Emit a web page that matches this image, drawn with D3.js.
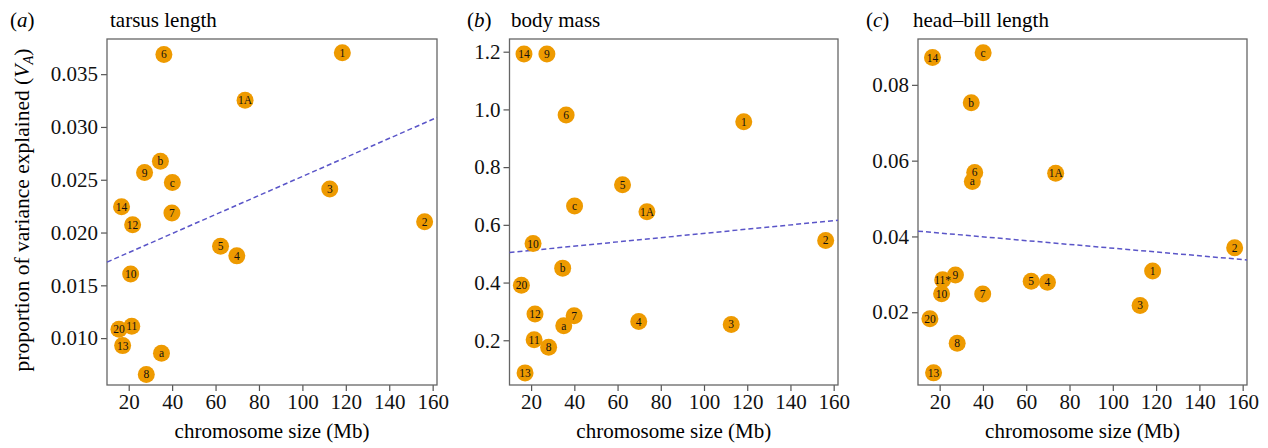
<html>
<head>
<script src="https://d3js.org/d3.v7.min.js"></script>
</head>
<body style="margin:0; background:#fff">
<svg width="1268" height="448" font-family="Liberation Serif"></svg>
<script>
// chromosomes and their sizes (Mb)
var chromosomes = ["1","1A","2","3","4","5","6","7","8","9","10","11","12","13","14","20","a","b","c"];
var chromSize   = [118.4,73.6,156.3,112.6,69.8,62.3,36.2,39.9,28.1,27.3,20.9,21.4,21.8,17.2,16.7,15.5,35.1,34.6,40.1];

// proportion of variance explained, per trait
var tarsus   = [0.03703,0.03253,0.02102,0.02413,0.01779,0.01871,0.03687,0.02185,0.00656,0.02568,0.01607,0.01113,0.02074,0.00929,0.02245,0.01084,0.00856,0.02675,0.02473];
var bodyMass = [0.957,0.645,0.546,0.255,0.265,0.739,0.981,0.285,0.176,1.192,0.535,0.202,0.291,0.087,1.192,0.391,0.250,0.450,0.665];
var headBill = [0.0309,0.0567,0.0370,0.0218,0.0279,0.0282,0.0569,0.0248,0.0118,0.0298,0.0249,0.0286,null,0.0040,0.0872,0.0183,0.0545,0.0753,0.0885];
var headBillLabels = ["1","1A","2","3","4","5","6","7","8","9","10","11*","12","13","14","20","a","b","c"];

// fitted lines (value at x = 10 and x = 162)
var trendX      = [10, 162];
var tarsusTrend = [0.0172, 0.0309];
var bodyTrend   = [0.504, 0.616];
var headTrend   = [0.0414, 0.0338];

var xTicks = [20,40,60,80,100,120,140,160];
var tarsusTicks = [0.010,0.015,0.020,0.025,0.030,0.035];
var bodyTicks   = [0.2,0.4,0.6,0.8,1.0,1.2];
var headTicks   = [0.02,0.04,0.06,0.08];

var panels = [
  {letter:"a", title:"tarsus length", left:107, right:437, letterX:10, titleX:110,
   values:tarsus, labels:chromosomes, ydom:[0.00556,0.03833], ticks:tarsusTicks, fmt:".3f", trend:tarsusTrend},
  {letter:"b", title:"body mass", left:509.5, right:838, letterX:467, titleX:511,
   values:bodyMass, labels:chromosomes, ydom:[0.045,1.244], ticks:bodyTicks, fmt:".1f", trend:bodyTrend},
  {letter:"c", title:"head\u2013bill length", left:918, right:1247, letterX:866, titleX:913,
   values:headBill, labels:headBillLabels, ydom:[0.0008,0.0921], ticks:headTicks, fmt:".2f", trend:headTrend}
];

var svg = d3.select("svg");
var top_ = 39, bottom = 385;
var fs = 21;

panels.forEach(function(p) {
  var x = d3.scaleLinear().domain([10, 162]).range([p.left, p.right]);
  var y = d3.scaleLinear().domain(p.ydom).range([bottom, top_]);
  var g = svg.append("g");

  // panel letter and title
  var lt = g.append("text").attr("x", p.letterX).attr("y", 27).attr("font-size", fs);
  lt.append("tspan").text("(");
  lt.append("tspan").attr("font-style", "italic").text(p.letter);
  lt.append("tspan").text(")");
  g.append("text").attr("x", p.titleX).attr("y", 27).attr("font-size", fs).text(p.title);

  // axes
  var xa = g.append("g").attr("transform", "translate(0," + bottom + ")")
    .call(d3.axisBottom(x).tickValues(xTicks).tickSize(6).tickPadding(3));
  var ya = g.append("g").attr("transform", "translate(" + p.left + ",0)")
    .call(d3.axisLeft(y).tickValues(p.ticks).tickFormat(d3.format(p.fmt)).tickSize(6).tickPadding(3));
  [xa, ya].forEach(function(a) {
    a.attr("font-family", "Liberation Serif").attr("font-size", fs);
    a.select(".domain").remove();
    a.selectAll("line").attr("stroke", "#555").attr("stroke-width", 1.2);
    a.selectAll("text").attr("fill", "#111");
  });

  // box
  g.append("rect").attr("x", p.left).attr("y", top_)
    .attr("width", p.right - p.left).attr("height", bottom - top_)
    .attr("fill", "none").attr("stroke", "#666").attr("stroke-width", 1.3);

  // x label
  g.append("text").attr("x", (p.left + p.right) / 2).attr("y", 438)
    .attr("text-anchor", "middle").attr("font-size", fs).text("chromosome size (Mb)");

  // trend line
  g.append("line")
    .attr("x1", x(trendX[0])).attr("y1", y(p.trend[0]))
    .attr("x2", x(trendX[1])).attr("y2", y(p.trend[1]))
    .attr("stroke", "#5a55c8").attr("stroke-width", 1.5).attr("stroke-dasharray", "5,3");

  var pts = chromosomes.map(function(c, i) {
    return {size: chromSize[i], v: p.values[i], label: p.labels[i]};
  }).filter(function(d) { return d.v != null; });

  g.selectAll(".dot").data(pts).enter().append("circle")
    .attr("class", "dot")
    .attr("cx", function(d) { return x(d.size); })
    .attr("cy", function(d) { return y(d.v); })
    .attr("r", 8.5)
    .attr("fill", "#ee9a00");

  g.selectAll(".lab").data(pts).enter().append("text")
    .attr("class", "lab")
    .attr("x", function(d) { return x(d.size); })
    .attr("y", function(d) { return y(d.v) + 4; })
    .attr("text-anchor", "middle")
    .attr("font-size", 11.5)
    .attr("fill", "#111")
    .text(function(d) { return d.label; });
});

// y axis label
var yl = svg.append("text")
  .attr("transform", "translate(29,210) rotate(-90)")
  .attr("text-anchor", "middle").attr("font-size", 21.5);
yl.append("tspan").text("proportion of variance explained (");
yl.append("tspan").attr("font-style", "italic").text("V");
yl.append("tspan").attr("font-style", "italic").attr("font-size", 14.5).attr("dy", 4).text("A");
yl.append("tspan").attr("dy", -4).text(")");
</script>
</body>
</html>
